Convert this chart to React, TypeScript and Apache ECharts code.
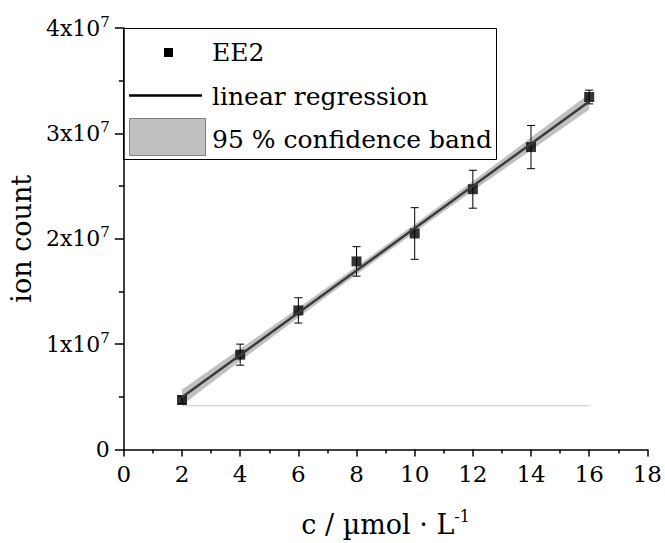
import React, { useEffect, useRef } from "react";
import * as echarts from "echarts";

// ---- data ----
const concentrations = [2, 4, 6, 8, 10, 12, 14, 16];
const ionCounts = [4.7e6, 9.0e6, 13.2e6, 17.85e6, 20.5e6, 24.7e6, 28.7e6, 33.45e6];
const ionErrors = [0.35e6, 1.0e6, 1.2e6, 1.4e6, 2.45e6, 1.8e6, 2.05e6, 0.65e6];

const regressionX = [2, 16];
const regressionY = [4.96e6, 33.02e6];

const bandX = [2, 4, 6, 8, 10, 12, 14, 16];
const bandUpper = [5.7e6, 9.55e6, 13.43e6, 17.37e6, 21.38e6, 25.45e6, 29.6e6, 33.77e6];
const bandLower = [4.2e6, 8.4e6, 12.53e6, 16.61e6, 20.62e6, 24.55e6, 28.4e6, 32.27e6];

const baselineX = [2, 16];
const baselineY = [4.15e6, 4.15e6];

const yTickExponent = 7;
const legendLabels = ["EE2", "linear regression", "95 % confidence band"];
const xAxisTitle = "c / µmol · L";
const xAxisTitleSup = "-1";
const yAxisTitle = "ion count";

const FONT = "DejaVu Serif";

export default function App() {
  const ref = useRef<HTMLDivElement>(null);
  useEffect(() => {
    if (!ref.current) return;
    const chart = echarts.init(ref.current, null, { renderer: "svg" });
    const gl = 123, gr = 15, gt = 28, gb = 93;
    const option: any = {
      animation: false,
      backgroundColor: "#ffffff",
      grid: { left: gl, right: gr, top: gt, bottom: gb, containLabel: false },
      xAxis: {
        type: "value",
        min: 0,
        max: 18,
        interval: 2,
        name: `{a|${xAxisTitle}}{s|${xAxisTitleSup}}`,
        nameLocation: "middle",
        nameGap: 59,
        nameTextStyle: {
          rich: {
            a: { fontFamily: FONT, fontSize: 27, color: "#000", lineHeight: 32 },
            s: { fontFamily: FONT, fontSize: 16, color: "#000", lineHeight: 32, verticalAlign: "top" },
          },
        },
        axisLine: { show: true, onZero: false, lineStyle: { color: "#000", width: 1.5 } },
        axisTick: { show: true, inside: false, length: 7, lineStyle: { color: "#000", width: 1.5 } },
        minorTick: { show: true, splitNumber: 2, length: 4, lineStyle: { color: "#000", width: 1.5 } },
        axisLabel: { fontFamily: FONT, fontSize: 23, color: "#000", margin: 13 },
        splitLine: { show: false },
      },
      yAxis: {
        type: "value",
        min: 0,
        max: 4e7,
        interval: 1e7,
        name: yAxisTitle,
        nameLocation: "middle",
        nameGap: 86,
        nameRotate: 90,
        nameTextStyle: { fontFamily: FONT, fontSize: 27, color: "#000" },
        axisLine: { show: true, onZero: false, lineStyle: { color: "#000", width: 1.5 } },
        axisTick: { show: true, inside: false, length: 9, lineStyle: { color: "#000", width: 1.5 } },
        minorTick: { show: true, splitNumber: 2, length: 5, lineStyle: { color: "#000", width: 1.5 } },
        axisLabel: {
          margin: 14,
          formatter: (v: number) =>
            v === 0 ? "{b|0}" : `{b|${Math.round(v / Math.pow(10, yTickExponent))}x10}{s|${yTickExponent}}`,
          rich: {
            b: { fontFamily: FONT, fontSize: 22, color: "#000", lineHeight: 28 },
            s: { fontFamily: FONT, fontSize: 15, color: "#000", lineHeight: 28, verticalAlign: "top" },
          },
        },
        splitLine: { show: false },
      },
      series: [
        {
          name: "band",
          type: "custom",
          z: 1,
          silent: true,
          data: [[bandX[0], bandUpper[0]]],
          renderItem: (params: any, api: any) => {
            const pts: number[][] = [];
            for (let i = 0; i < bandX.length; i++) pts.push(api.coord([bandX[i], bandUpper[i]]));
            for (let i = bandX.length - 1; i >= 0; i--) pts.push(api.coord([bandX[i], bandLower[i]]));
            return { type: "polygon", shape: { points: pts }, style: { fill: "#c0c0c0", stroke: "none" } };
          },
        },
        {
          name: "baseline",
          type: "line",
          z: 2,
          symbol: "none",
          silent: true,
          data: baselineX.map((x, i) => [x, baselineY[i]]),
          lineStyle: { color: "#c8c8c8", width: 1 },
        },
        {
          name: "EE2",
          type: "scatter",
          z: 3,
          symbol: "rect",
          symbolSize: 10,
          itemStyle: { color: "#000" },
          data: concentrations.map((x, i) => [x, ionCounts[i]]),
        },
        {
          name: "errors",
          type: "custom",
          z: 4,
          silent: true,
          data: concentrations.map((x, i) => [x, ionCounts[i], ionErrors[i]]),
          renderItem: (params: any, api: any) => {
            const x = api.value(0), y = api.value(1), e = api.value(2);
            const top = api.coord([x, y + e]);
            const bot = api.coord([x, y - e]);
            const w = 4;
            const st = { stroke: "#000", lineWidth: 1 };
            return {
              type: "group",
              children: [
                { type: "line", shape: { x1: top[0], y1: top[1], x2: bot[0], y2: bot[1] }, style: st },
                { type: "line", shape: { x1: top[0] - w, y1: top[1], x2: top[0] + w, y2: top[1] }, style: st },
                { type: "line", shape: { x1: bot[0] - w, y1: bot[1], x2: bot[0] + w, y2: bot[1] }, style: st },
              ],
            };
          },
        },
        {
          name: "linear regression",
          type: "line",
          z: 5,
          symbol: "none",
          silent: true,
          data: regressionX.map((x, i) => [x, regressionY[i]]),
          lineStyle: { color: "#3a3a3a", width: 2.5 },
        },
      ],
      graphic: [
        {
          type: "group",
          z: 100,
          children: [
            { type: "rect", shape: { x: 123.5, y: 28.5, width: 373, height: 131 }, style: { fill: "#fff", stroke: "#000", lineWidth: 1 } },
            { type: "rect", shape: { x: 164, y: 48, width: 9, height: 9 }, style: { fill: "#000" } },
            { type: "line", shape: { x1: 129, y1: 95.5, x2: 202, y2: 95.5 }, style: { stroke: "#000", lineWidth: 2.5 } },
            { type: "rect", shape: { x: 129.5, y: 118.5, width: 76, height: 37 }, style: { fill: "#c0c0c0", stroke: "#808080", lineWidth: 1 } },
            { type: "text", x: 212, y: 52, style: { text: legendLabels[0], font: `25px "${FONT}"`, fill: "#000", textVerticalAlign: "middle", verticalAlign: "middle" } },
            { type: "text", x: 212, y: 96, style: { text: legendLabels[1], font: `25px "${FONT}"`, fill: "#000", textVerticalAlign: "middle", verticalAlign: "middle" } },
            { type: "text", x: 212, y: 139, style: { text: legendLabels[2], font: `25px "${FONT}"`, fill: "#000", textVerticalAlign: "middle", verticalAlign: "middle" } },
          ],
        },
      ],
    };
    chart.setOption(option);
    return () => chart.dispose();
  }, []);
  return <div ref={ref} style={{ position: "fixed", left: 0, top: 0, width: 665, height: 543 }} />;
}
